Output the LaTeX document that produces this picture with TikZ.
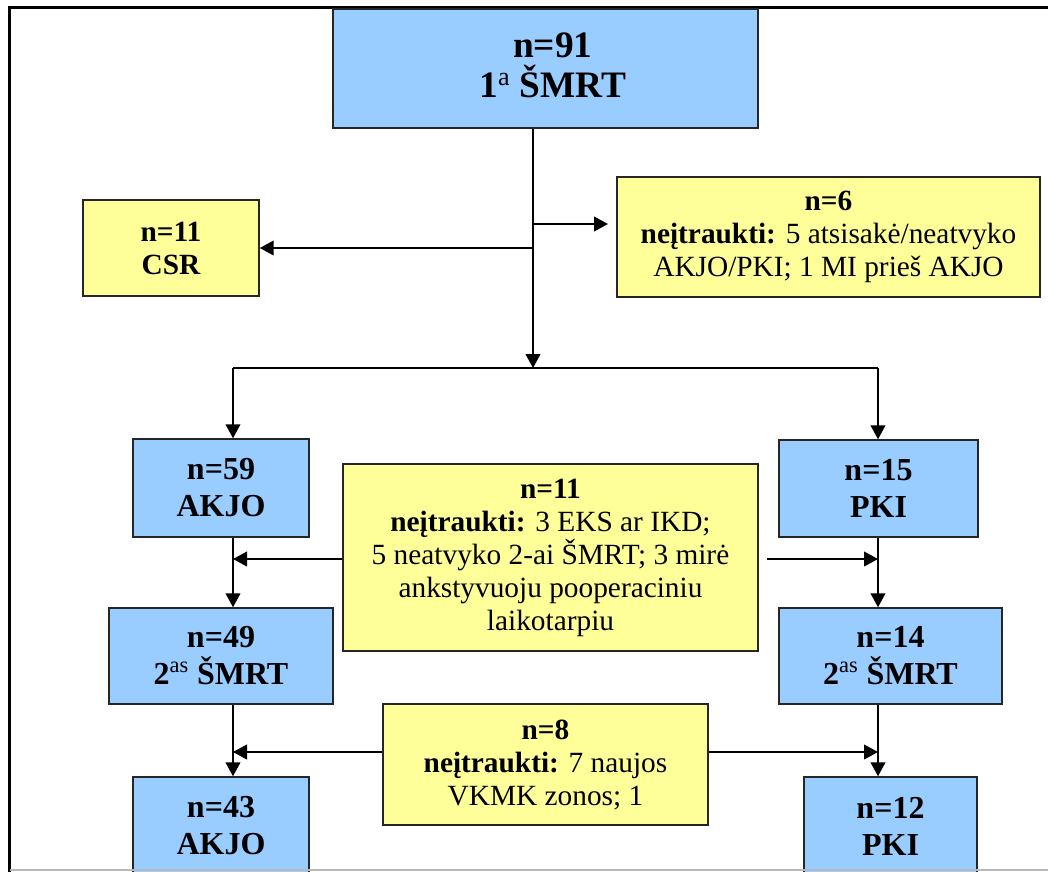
\documentclass[tikz,border=0pt]{standalone}
\usepackage{fontspec}
\setmainfont{Liberation Serif}
\usetikzlibrary{arrows.meta}
\definecolor{boxblue}{HTML}{99CCFF}
\definecolor{boxyellow}{HTML}{FFFF99}
\begin{document}
\begin{tikzpicture}[x=0.75pt,y=-0.75pt,
  box/.style={draw=black!85, line width=1.1pt, inner sep=0pt, align=center},
  bluebox/.style={box, fill=boxblue, font=\fontsize{24}{27.75}\selectfont\bfseries},
  topbox/.style={box, fill=boxblue, font=\fontsize{28}{28.5}\selectfont\bfseries},
  yellowbox/.style={box, fill=boxyellow, font=\fontsize{22}{24.75}\selectfont},
  conn/.style={line width=1.5pt, draw=black},
  arr/.style={conn, -{Triangle[length=10.5pt,width=11pt]}},
  frameline/.style={line width=2.6pt, draw=black}]
\clip (0,0) rectangle (1048,871);
\fill[white] (0,0) rectangle (1048,871);
% outer frame
\draw[frameline] (9.5,880) -- (9.5,7.5) -- (1060,7.5);
% boxes
\node[topbox, minimum width=318.75pt, minimum height=89.25pt] (top) at (545.5,68.5)
  {\raisebox{-1.2pt}[\height][\depth]{\begin{tabular}{@{\hspace{11pt}}c@{}}n=91\\[-3pt]1\textsuperscript{\mdseries a} ŠMRT\end{tabular}}};
\node[yellowbox, font=\fontsize{22}{24.75}\selectfont\bfseries, minimum width=132pt, minimum height=72pt] (csr) at (171,248) {n=11\\CSR};
\node[yellowbox, minimum width=317.25pt, minimum height=90pt] (n6) at (828.5,237) {\textbf{n=6}\\\textbf{neįtraukti:} 5 atsisakė/neatvyko\\AKJO/PKI; 1 MI prieš AKJO};
\node[bluebox, minimum width=132pt, minimum height=73.5pt] (akjo1) at (221,488) {n=59\\AKJO};
\node[bluebox, minimum width=149.25pt, minimum height=72.75pt] (pki1) at (878.5,488.5) {n=15\\PKI};
\node[yellowbox, minimum width=311.25pt, minimum height=140.25pt] (n11) at (550.5,557.5) {\textbf{n=11}\\\textbf{neįtraukti:} 3 EKS ar IKD;\\5 neatvyko 2-ai ŠMRT; 3 mirė\\ankstyvuoju pooperaciniu\\laikotarpiu};
\node[bluebox, minimum width=168pt, minimum height=72pt] (s2l) at (221,656) {n=49\\2\textsuperscript{\mdseries as} ŠMRT};
\node[bluebox, minimum width=167.25pt, minimum height=72pt] (s2r) at (890.5,656) {n=14\\2\textsuperscript{\mdseries as} ŠMRT};
\node[yellowbox, minimum width=243.75pt, minimum height=90.75pt] (n8) at (545.5,764.5) {\textbf{n=8}\\\textbf{neįtraukti:} 7 naujos\\VKMK zonos; 1};
\node[bluebox, minimum width=132pt, minimum height=73.5pt] (akjo2) at (221,826) {n=43\\AKJO};
\node[bluebox, minimum width=129.75pt, minimum height=73.5pt] (pki2) at (890.5,826) {n=12\\PKI};
% junction coordinates
\coordinate (j1) at (533,368);
\coordinate (jL) at (233,368);
\coordinate (jR) at (878,368);
\coordinate (jc) at (533,248);
\coordinate (j6) at (533,224);
\coordinate (t6) at (608,224);
\coordinate (a11) at (0,559);
\coordinate (t11) at (767,559);
\coordinate (a8) at (0,752);
% connectors
\draw[arr] (top.south -| j1) -- (j1);
\draw[conn] (jL) -- (jR);
\draw[arr] (jL) -- (akjo1.north -| jL);
\draw[arr] (jR) -- (pki1.north -| jR);
\draw[arr] (jc) -- (csr.east);
\draw[arr] (j6) -- (t6);
\draw[arr] (akjo1.south -| jL) -- (s2l.north -| jL);
\draw[arr] (n11.west |- a11) -- (jL |- a11);
\draw[arr] (t11) -- (jR |- t11);
\draw[arr] (pki1.south -| jR) -- (s2r.north -| jR);
\draw[arr] (s2l.south -| jL) -- (akjo2.north -| jL);
\draw[arr] (n8.west |- a8) -- (jL |- a8);
\draw[arr] (n8.east |- a8) -- (jR |- a8);
\draw[arr] (s2r.south -| jR) -- (pki2.north -| jR);
% bottom grey edge
\draw[gray!55, line width=0.8pt] (9.5,870) -- (1048,870);
\end{tikzpicture}
\end{document}
